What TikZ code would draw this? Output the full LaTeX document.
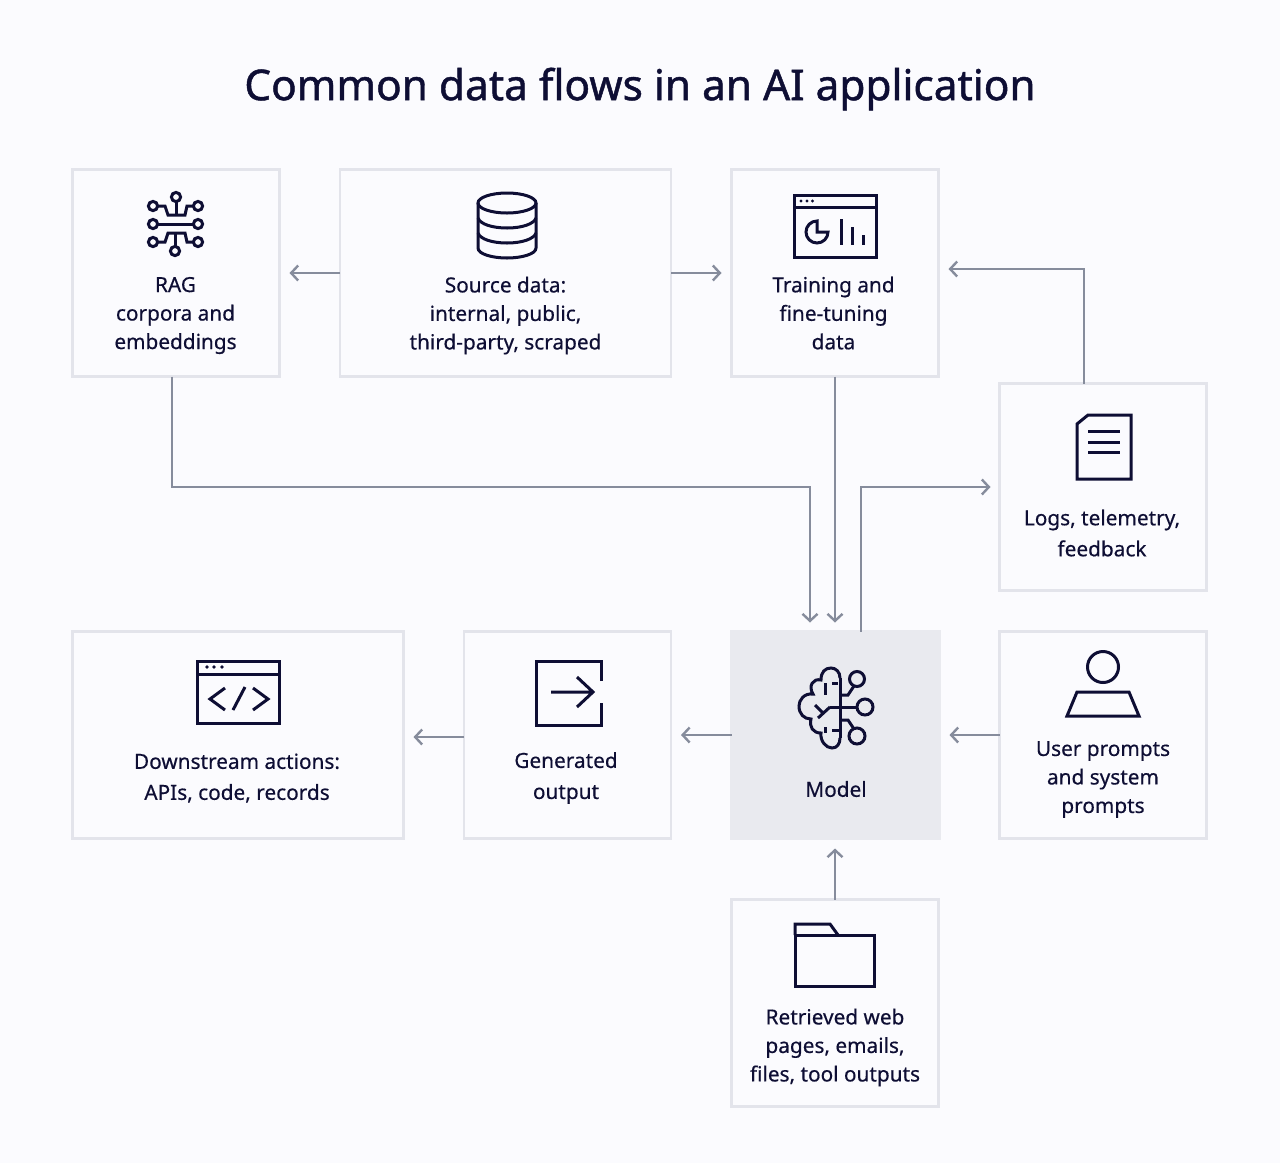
\documentclass[tikz,border=0pt]{standalone}
\usepackage{fontspec}
\setmainfont{Noto Sans}
\newfontfamily\labfont[FakeBold=0.45]{Noto Sans}
\newfontfamily\titlefont[FakeBold=1.1]{Noto Sans}
\usetikzlibrary{arrows.meta}
\definecolor{bg}{HTML}{FBFBFE}
\definecolor{edge}{HTML}{E3E4EB}
\definecolor{ink}{HTML}{0E0E34}
\definecolor{wire}{HTML}{868C9C}
\definecolor{modelfill}{HTML}{E9EAEF}
\tikzset{
  x=1pt,y=-1pt,
  panel/.style={draw=edge,line width=2.8pt,fill=none,minimum width=#1,minimum height=207pt,inner sep=0pt,outer sep=0pt},
  panelfill/.style={panel=#1,fill=modelfill,draw=modelfill},
  lab/.style={text=ink,align=center,inner sep=0pt,font=\labfont\fontsize{20.8}{28.5}\selectfont},
  labw/.style={text=ink,align=center,inner sep=0pt,font=\labfont\fontsize{20.8}{31}\selectfont},
  conn/.style={draw=wire,line width=2.4pt,-{Straight Barb[length=7pt,width=15pt,line width=2.4pt]}},
  icon/.style={draw=ink,line width=3pt,fill=none,line join=miter},
}
\begin{document}
\begin{tikzpicture}
\useasboundingbox (0,0) rectangle (1280,1163);
\fill[bg] (0,0) rectangle (1280,1163);
\node[text=ink,inner sep=0pt,font=\titlefont\fontsize{42.4}{50}\selectfont] (title) at (640,89) {Common data flows in an AI application};
% boxes
\node[panel=207pt] (rag) at (176,273) {};
\node[panel=331pt] (src) at (505.5,273) {};
\node[panel=207pt] (train) at (835,273) {};
\node[panel=207pt] (logs) at (1103,487) {};
\node[panel=331pt] (down) at (238,735) {};
\node[panel=207pt] (gen) at (567.5,735) {};
\node[panelfill=208pt] (model) at (835.5,735) {};
\node[panel=207pt] (user) at (1103,735) {};
\node[panel=207pt] (retr) at (835,1003) {};
% labels
\node[lab] (tragt) at (175.5,315.5) {RAG\\corpora and\\embeddings};
\node[lab] (tsrc) at (505.5,315.5) {Source data:\\internal, public,\\third-party, scraped};
\node[lab] (ttrain) at (833.5,313) {Training and\\fine-tuning\\data};
\node[labw] (tlogs) at (1102,533) {Logs, telemetry,\\feedback};
\node[labw] (tdown) at (237,778) {Downstream actions:\\APIs, code, records};
\node[labw] (tgen) at (566,778) {Generated\\output};
\node[lab] (tmodel) at (836,789) {Model};
\node[lab] (tuser) at (1103,779.5) {User prompts\\and system\\prompts};
\node[lab] (tretr) at (835,1047.5) {Retrieved web\\pages, emails,\\files, tool outputs};
% connectors
\draw[conn,shorten >=10pt] (src.west) -- (rag.east);
\draw[conn,shorten >=10pt] (src.east) -- (train.west);
\draw[conn] (logs.north -| 1084,0) -- (1084,269) -- ([xshift=10pt,yshift=4pt]train.east);
\draw[conn] ([xshift=-4pt]rag.south) -- (172,487) -- (810,487) -- ([xshift=-25.5pt,yshift=9pt]model.north);
\draw[conn,shorten >=9pt] (train.south) -- (train.south |- model.north);
\draw[conn] ([xshift=25.5pt]model.north) -- (861,487) -- ([xshift=-9pt]logs.west);
\draw[conn,shorten >=10pt] (model.west) -- (gen.east);
\draw[conn,shorten >=10pt] ([yshift=-2pt]gen.west) -- ([yshift=-2pt]down.east);
\draw[conn,shorten >=10pt] (user.west) -- (model.east);
\draw[conn,shorten >=10pt] (retr.north) -- (retr.north |- model.south);
% RAG icon
\begin{scope}[icon]
\foreach \p in {(176,197),(153,206),(198,206),(153,224),(198,224),(153,242),(198,242),(175,251)} \draw \p circle (4.6);
\draw (158,206)--(165,206)--(168,215)--(185,215)--(187,206)--(193,206);
\draw (176,202)--(176,215);
\draw (158,224)--(193,224);
\draw (158,242)--(165,242)--(168,233)--(185,233)--(187,242)--(193,242);
\draw (175,233)--(175,246);
% database
\draw (507,203) ellipse [x radius=29,y radius=10];
\draw (478,203) -- (478,248) .. controls (478,254) and (492,258) .. (507,258) .. controls (522,258) and (536,254) .. (536,248) -- (536,203);
\draw (478,218) .. controls (480,224) and (492,228) .. (507,228) .. controls (522,228) and (534,224) .. (536,218);
\draw (478,233) .. controls (480,239) and (492,243) .. (507,243) .. controls (522,243) and (534,239) .. (536,233);
% training window
\draw (794,195) rectangle (876,257);
\draw (794,207) -- (876,207);
\fill[ink,draw=none] (801,201) circle (1.7) (807,201) circle (1.7) (812.5,201) circle (1.7);
\draw (817,221) arc [start angle=270,end angle=0,radius=11] -- (817,232) -- cycle;
\draw (841,219)--(841,245) (852,227)--(852,245) (863,235)--(863,245);
% logs doc
\draw (1077,424) -- (1088,415) -- (1131,415) -- (1131,479) -- (1077,479) -- cycle;
\draw (1088,431)--(1120,431) (1088,442)--(1120,442) (1088,452)--(1120,452);
% user
\draw (1103,667) circle (15.5);
\draw (1077,692) -- (1129,692) -- (1139,716) -- (1067,716) -- cycle;
% brain
\draw (857,679) circle (7.5) (865,707) circle (8) (857,736) circle (8);
\draw (840,678) -- (840,738);
\draw (830,707) -- (857,707);
\draw (840,695) -- (848,695) -- (854,686);
\draw (840,720) -- (848,720) -- (854,729);
\draw (840,678) .. controls (840,672) and (836,668) .. (831,668) .. controls (825,668) and (821,672) .. (821,680)
  .. controls (813,678) and (808,686) .. (813,694) .. controls (804,693) and (799,700) .. (799,706)
  .. controls (799,714) and (804,719) .. (811,719) .. controls (809,727) and (813,733) .. (821,733)
  .. controls (820,741) and (826,748) .. (832,748) .. controls (837,748) and (840,744) .. (840,738);
\draw (825,683)--(825,695) (832,683)--(838,683);
\draw (815,705)--(823,713) (818,718)--(830,707);
\draw (832,730)--(840,730) (825,733)--(825,727);
% code window
\draw (197,661) rectangle (279,723);
\draw (197,674) -- (279,674);
\fill[ink,draw=none] (207,667) circle (1.8) (214,667) circle (1.8) (222,667) circle (1.8);
\draw (225,688)--(210,699)--(225,710) (245,687)--(233,710) (253,688)--(268,699)--(253,710);
% generated
\draw (601,681)--(601,661)--(536,661)--(536,725)--(601,725)--(601,703);
\draw (551,692)--(593,692) (577,677)--(593,692)--(577,707);
% folder
\draw (795,935) rectangle (874,986);
\draw (795,935)--(795,924)--(830,924)--(838,935);
\end{scope}
\end{tikzpicture}
\end{document}
